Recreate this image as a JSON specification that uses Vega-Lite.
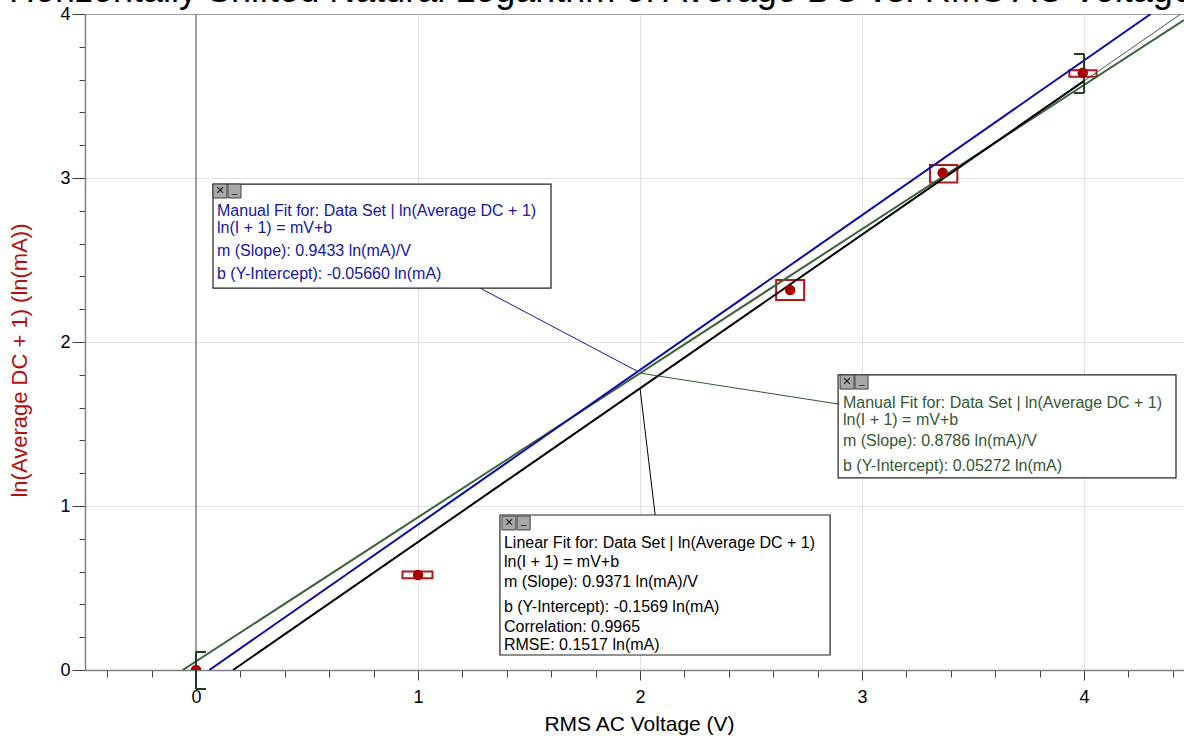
{
  "$schema": "https://vega.github.io/schema/vega-lite/v6.json",
  "width": 1099,
  "height": 656,
  "autosize": "none",
  "padding": {"left": 85, "top": 14, "right": 0, "bottom": 66},
  "background": "white",
  "config": {"view": {"stroke": null}, "font": "Liberation Sans"},
  "title": {
    "text": "Horizontally Shifted Natural Logarithm of Average DC vs. RMS AC Voltage",
    "font": "Liberation Sans", "fontSize": 36, "fontWeight": "normal", "color": "#000000",
    "anchor": "start", "frame": "group", "dx": -76, "offset": -5
  },
  "datasets": {
    "points": [
      {"x": 0, "y": 0},
      {"x": 1.0, "y": 0.579},
      {"x": 2.676, "y": 2.317},
      {"x": 3.363, "y": 3.032},
      {"x": 3.994, "y": 3.642}
    ],
    "errboxes": [
      {"x": 0.93, "x2": 1.065, "y": 0.56, "y2": 0.6},
      {"x": 2.613, "x2": 2.739, "y": 2.256, "y2": 2.378},
      {"x": 3.306, "x2": 3.429, "y": 2.973, "y2": 3.079},
      {"x": 3.934, "x2": 4.056, "y": 3.618, "y2": 3.657}
    ],
    "fits": [
      {"fit": "blue", "x": 0.06, "y": 0},
      {"fit": "blue", "x": 4.3, "y": 4.0},
      {"fit": "green", "x": -0.06, "y": 0},
      {"fit": "green", "x": 4.45, "y": 3.9625},
      {"fit": "black", "x": 0.167, "y": 0},
      {"fit": "black", "x": 4.0, "y": 3.592},
      {"fit": "blackext", "x": 0.167, "y": 0},
      {"fit": "blackext", "x": 4.436, "y": 4.0}
    ],
    "connectors": [
      {"fit": "blue", "x": 1.279, "y": 2.329, "x2": 1.99, "y2": 1.82},
      {"fit": "green", "x": 2.892, "y": 1.622, "x2": 2.0, "y2": 1.81},
      {"fit": "black", "x": 2.068, "y": 0.945, "x2": 2.0, "y2": 1.717}
    ],
    "brackets": [
      {"x": 0, "y": -0.116, "x2": 0, "y2": 0.11},
      {"x": 0, "y": 0.11, "x2": 0.045, "y2": 0.11},
      {"x": 0, "y": -0.116, "x2": 0.045, "y2": -0.116},
      {"x": 4.0, "y": 3.518, "x2": 4.0, "y2": 3.756},
      {"x": 3.955, "y": 3.756, "x2": 4.0, "y2": 3.756},
      {"x": 3.955, "y": 3.518, "x2": 4.0, "y2": 3.518}
    ],
    "annboxes": [
      {"fit": "blue", "x": 0.0766, "x2": 1.599, "y": 2.963, "y2": 2.329},
      {"fit": "green", "x": 2.892, "x2": 4.414, "y": 1.799, "y2": 1.171},
      {"fit": "black", "x": 1.369, "x2": 2.856, "y": 0.945, "y2": 0.0915}
    ],
    "icons": [
      {"x": 0.0766, "x2": 0.1396, "y": 2.963, "y2": 2.878},
      {"x": 0.1441, "x2": 0.2027, "y": 2.963, "y2": 2.878},
      {"x": 2.901, "x2": 2.964, "y": 1.799, "y2": 1.713},
      {"x": 2.968, "x2": 3.027, "y": 1.799, "y2": 1.713},
      {"x": 1.378, "x2": 1.441, "y": 0.939, "y2": 0.854},
      {"x": 1.446, "x2": 1.505, "y": 0.939, "y2": 0.854}
    ],
    "iconglyphs": [
      {"g": "✕", "x": 0.108, "y": 2.92},
      {"g": "_", "x": 0.173, "y": 2.935},
      {"g": "✕", "x": 2.932, "y": 1.756},
      {"g": "_", "x": 2.998, "y": 1.771},
      {"g": "✕", "x": 1.41, "y": 0.897},
      {"g": "_", "x": 1.476, "y": 0.912}
    ],
    "texts": [
      {"fit": "blue", "t": "Manual Fit for: Data Set | ln(Average DC + 1)", "x": 0.0946, "y": 2.799},
      {"fit": "blue", "t": "ln(I + 1) = mV+b", "x": 0.0946, "y": 2.695},
      {"fit": "blue", "t": "m (Slope): 0.9433 ln(mA)/V", "x": 0.0946, "y": 2.555},
      {"fit": "blue", "t": "b (Y-Intercept): -0.05660 ln(mA)", "x": 0.0946, "y": 2.415},
      {"fit": "green", "t": "Manual Fit for: Data Set | ln(Average DC + 1)", "x": 2.914, "y": 1.628},
      {"fit": "green", "t": "ln(I + 1) = mV+b", "x": 2.914, "y": 1.524},
      {"fit": "green", "t": "m (Slope): 0.8786 ln(mA)/V", "x": 2.914, "y": 1.396},
      {"fit": "green", "t": "b (Y-Intercept): 0.05272 ln(mA)", "x": 2.914, "y": 1.244},
      {"fit": "black", "t": "Linear Fit for: Data Set | ln(Average DC + 1)", "x": 1.387, "y": 0.774},
      {"fit": "black", "t": "ln(I + 1) = mV+b", "x": 1.387, "y": 0.659},
      {"fit": "black", "t": "m (Slope): 0.9371 ln(mA)/V", "x": 1.387, "y": 0.537},
      {"fit": "black", "t": "b (Y-Intercept): -0.1569 ln(mA)", "x": 1.387, "y": 0.384},
      {"fit": "black", "t": "Correlation: 0.9965", "x": 1.387, "y": 0.262},
      {"fit": "black", "t": "RMSE: 0.1517 ln(mA)", "x": 1.387, "y": 0.152}
    ]
  },
  "encoding": {
    "x": {
      "field": "x", "type": "quantitative",
      "scale": {"domain": [-0.5, 4.45], "nice": false, "zero": false},
      "axis": {
        "title": "RMS AC Voltage (V)",
        "titleFont": "Liberation Sans", "titleFontSize": 21, "titleFontWeight": "normal", "titleColor": "#000000",
        "titleX": 554, "titleY": 54, "titleBaseline": "middle", "titleAlign": "center",
        "values": [-0.4, -0.2, 0, 0.2, 0.4, 0.6, 0.8, 1, 1.2, 1.4, 1.6, 1.8, 2, 2.2, 2.4, 2.6, 2.8, 3, 3.2, 3.4, 3.6, 3.8, 4, 4.2, 4.4],
        "labelExpr": "abs(datum.value - round(datum.value)) < 1e-6 ? format(datum.value, 'd') : ''",
        "labelFont": "Liberation Sans", "labelFontSize": 18, "labelColor": "#000000",
        "labelPadding": 8, "labelOverlap": false, "labelFlush": false, "labelBound": false,
        "tickColor": "#404040",
        "tickSize": {"condition": {"test": "abs(datum.value - round(datum.value)) < 1e-6", "value": 10}, "value": 7},
        "domainColor": "#808080", "domainWidth": 1.5,
        "grid": true, "gridColor": "#e0e0e0",
        "gridOpacity": {"condition": {"test": "abs(datum.value - round(datum.value)) < 1e-6 && datum.value != 0", "value": 1}, "value": 0}
      }
    },
    "y": {
      "field": "y", "type": "quantitative",
      "scale": {"domain": [0, 4], "nice": false, "zero": false},
      "axis": {
        "title": "ln(Average DC + 1) (ln(mA))",
        "titleFont": "Liberation Sans", "titleFontSize": 22, "titleFontWeight": "normal", "titleColor": "#b01010",
        "titleX": -66, "titleY": 346, "titleBaseline": "middle", "titleAlign": "center", "titleAngle": -90,
        "values": [0, 0.2, 0.4, 0.6, 0.8, 1, 1.2, 1.4, 1.6, 1.8, 2, 2.2, 2.4, 2.6, 2.8, 3, 3.2, 3.4, 3.6, 3.8, 4],
        "labelExpr": "abs(datum.value - round(datum.value)) < 1e-6 ? format(datum.value, 'd') : ''",
        "labelFont": "Liberation Sans", "labelFontSize": 18, "labelColor": "#000000",
        "labelPadding": 2, "labelOverlap": false, "labelFlush": false, "labelBound": false,
        "tickColor": "#404040",
        "tickSize": {"condition": {"test": "abs(datum.value - round(datum.value)) < 1e-6", "value": 13}, "value": 6},
        "domainColor": "#808080", "domainWidth": 1.5,
        "grid": true,
        "gridColor": {"condition": {"test": "datum.value == 4", "value": "#a0a0a0"}, "value": "#e0e0e0"},
        "gridOpacity": {"condition": {"test": "abs(datum.value - round(datum.value)) < 1e-6 && datum.value != 0", "value": 1}, "value": 0}
      }
    }
  },
  "layer": [
    {
      "data": {"values": [{"x": 0, "y": 0, "y2": 4}]},
      "mark": {"type": "rule", "color": "#808080", "strokeWidth": 1.5},
      "encoding": {"y2": {"field": "y2"}}
    },
    {
      "data": {"name": "errboxes"},
      "mark": {"type": "rect", "fill": "white", "stroke": "#b01818", "strokeWidth": 2},
      "encoding": {"x2": {"field": "x2"}, "y2": {"field": "y2"}}
    },
    {
      "data": {"name": "fits"},
      "transform": [{"filter": "datum.fit == 'blackext'"}],
      "mark": {"type": "line", "clip": true, "strokeWidth": 1, "color": "#505050"},
      "encoding": {"detail": {"field": "fit"}}
    },
    {
      "data": {"name": "fits"},
      "transform": [{"filter": "datum.fit == 'green'"}],
      "mark": {"type": "line", "clip": true, "strokeWidth": 2, "color": "#3b613b"},
      "encoding": {"detail": {"field": "fit"}}
    },
    {
      "data": {"name": "fits"},
      "transform": [{"filter": "datum.fit == 'black'"}],
      "mark": {"type": "line", "clip": true, "strokeWidth": 2, "color": "#000000"},
      "encoding": {"detail": {"field": "fit"}}
    },
    {
      "data": {"name": "fits"},
      "transform": [{"filter": "datum.fit == 'blue'"}],
      "mark": {"type": "line", "clip": true, "strokeWidth": 2, "color": "#0a0aa8"},
      "encoding": {"detail": {"field": "fit"}}
    },
    {
      "data": {"name": "connectors"},
      "mark": {"type": "rule", "strokeWidth": 1},
      "encoding": {
        "x2": {"field": "x2"}, "y2": {"field": "y2"},
        "color": {"field": "fit", "type": "nominal", "scale": {"domain": ["blue", "green", "black"], "range": ["#1616a0", "#335833", "#000000"]}, "legend": null}
      }
    },
    {
      "data": {"name": "brackets"},
      "mark": {"type": "rule", "strokeWidth": 2, "color": "#1e3a1e"},
      "encoding": {"x2": {"field": "x2"}, "y2": {"field": "y2"}}
    },
    {
      "data": {"name": "points"},
      "mark": {"type": "point", "shape": "circle", "filled": true, "color": "#a80000", "opacity": 1, "size": 110, "clip": true}
    },
    {
      "data": {"name": "annboxes"},
      "mark": {"type": "rect", "fill": "white", "stroke": "#222222", "strokeWidth": 1.2},
      "encoding": {"x2": {"field": "x2"}, "y2": {"field": "y2"}}
    },
    {
      "data": {"name": "icons"},
      "mark": {"type": "rect", "fill": "#a8a8a8", "stroke": "#404040", "strokeWidth": 1},
      "encoding": {"x2": {"field": "x2"}, "y2": {"field": "y2"}}
    },
    {
      "data": {"name": "iconglyphs"},
      "mark": {"type": "text", "font": "DejaVu Sans", "fontSize": 11, "color": "#202020", "align": "center", "baseline": "middle"},
      "encoding": {"text": {"field": "g"}}
    },
    {
      "data": {"name": "texts"},
      "mark": {"type": "text", "font": "Liberation Sans", "fontSize": 16, "align": "left", "baseline": "middle"},
      "encoding": {
        "text": {"field": "t"},
        "color": {"field": "fit", "type": "nominal", "scale": {"domain": ["blue", "green", "black"], "range": ["#1616a0", "#335833", "#000000"]}, "legend": null}
      }
    }
  ]
}
